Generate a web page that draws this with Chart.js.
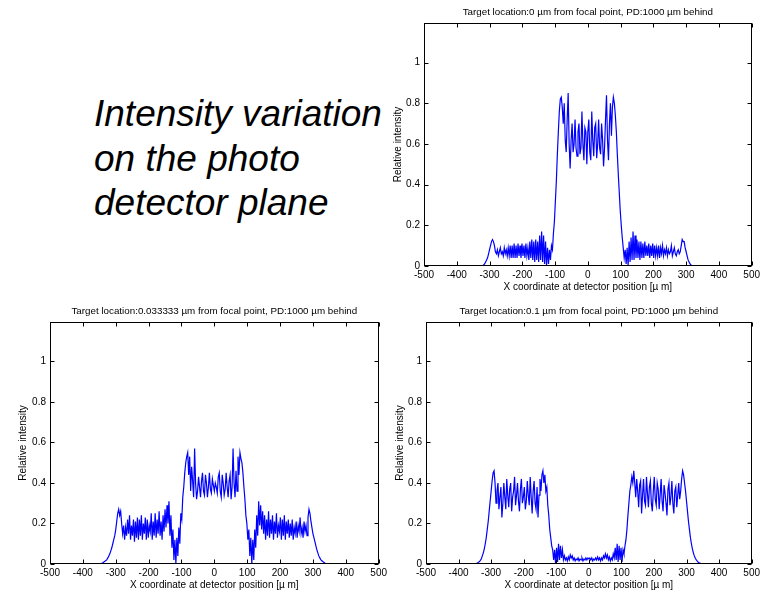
<!DOCTYPE html>
<html>
<head>
<meta charset="utf-8">
<script src="https://cdn.jsdelivr.net/npm/chart.js@4.4.1/dist/chart.umd.min.js"></script>
<style>
  body { margin: 0; background: #fff; }
  #page { position: relative; width: 763px; height: 592px; overflow: hidden; }
  canvas { position: absolute; }
  #note {
    position: absolute; left: 94px; top: 92px;
    font: italic 37px "Liberation Sans", Arial, sans-serif;
    line-height: 44.5px; color: #000; white-space: nowrap;
  }
</style>
</head>
<body>
<div id="page">
  <div id="note">Intensity variation<br>on the photo<br>detector plane</div>
  <canvas id="chartTop" width="383" height="300" style="left:380px;top:0px"></canvas>
  <canvas id="chartLeft" width="390" height="292" style="left:0px;top:300px"></canvas>
  <canvas id="chartRight" width="378" height="292" style="left:385px;top:300px"></canvas>
</div>
<script>
// sampling grid of the detector x coordinate (µm); outside it the intensity is 0
const xStart = -351, xStep = 3;
const xEdges = [-500, 500];
const xTicks = [-500, -400, -300, -200, -100, 0, 100, 200, 300, 400, 500];
const yTicks = [0, 0.2, 0.4, 0.6, 0.8, 1];

const titles = [
  'Target location:0 \u00b5m from focal point, PD:1000 \u00b5m behind',
  'Target location:0.033333 \u00b5m from focal point, PD:1000 \u00b5m behind',
  'Target location:0.1 \u00b5m from focal point, PD:1000 \u00b5m behind'
];

// target at 0 µm
const intensity0 = [
  0, 0, 0, 0, 0, 0, 0, 0, 0, 0,
  0, 0.005, 0.01, 0.02, 0.03, 0.04, 0.06, 0.08, 0.10, 0.12,
  0.13, 0.12, 0.10, 0.07, 0.06, 0.08, 0.05, 0.07, 0.09, 0.06,
  0.07, 0.05, 0.09, 0.06, 0.08, 0.05, 0.09, 0.05, 0.10, 0.04,
  0.10, 0.04, 0.11, 0.04, 0.10, 0.04, 0.11, 0.05, 0.10, 0.04,
  0.11, 0.05, 0.10, 0.04, 0.11, 0.05, 0.09, 0.03, 0.12, 0.04,
  0.13, 0.03, 0.12, 0.02, 0.13, 0.03, 0.12, 0.02, 0.15, 0.03,
  0.17, 0.02, 0.15, 0.01, 0.12, 0.00, 0.09, 0.01, 0.08, 0.03,
  0.10, 0.08, 0.16, 0.22, 0.32, 0.42, 0.55, 0.66, 0.76, 0.82,
  0.83, 0.78, 0.70, 0.80, 0.62, 0.56, 0.72, 0.85, 0.60, 0.48,
  0.62, 0.70, 0.56, 0.60, 0.72, 0.58, 0.54, 0.66, 0.70, 0.55,
  0.58, 0.76, 0.60, 0.52, 0.68, 0.66, 0.50, 0.66, 0.72, 0.56,
  0.52, 0.76, 0.62, 0.54, 0.68, 0.70, 0.53, 0.60, 0.72, 0.58,
  0.55, 0.70, 0.62, 0.49, 0.58, 0.72, 0.84, 0.62, 0.52, 0.70,
  0.80, 0.64, 0.78, 0.83, 0.80, 0.74, 0.66, 0.55, 0.45, 0.36,
  0.27, 0.20, 0.14, 0.09, 0.04, 0.08, 0.01, 0.09, 0.00, 0.12,
  0.02, 0.14, 0.03, 0.17, 0.03, 0.15, 0.04, 0.13, 0.04, 0.12,
  0.03, 0.12, 0.04, 0.11, 0.04, 0.12, 0.05, 0.10, 0.05, 0.11,
  0.04, 0.10, 0.05, 0.11, 0.04, 0.10, 0.05, 0.09, 0.05, 0.10,
  0.04, 0.09, 0.06, 0.10, 0.05, 0.08, 0.06, 0.09, 0.05, 0.08,
  0.06, 0.07, 0.10, 0.05, 0.07, 0.09, 0.06, 0.05, 0.07, 0.08,
  0.06, 0.07, 0.10, 0.13, 0.12, 0.12, 0.09, 0.07, 0.05, 0.03,
  0.02, 0.01, 0.005, 0.002, 0, 0, 0, 0, 0, 0,
  0, 0, 0, 0, 0
];

// target at 0.033333 µm
const intensity1 = [
  0, 0, 0.002, 0.004, 0.006, 0.01, 0.013, 0.017, 0.022, 0.03,
  0.04, 0.05, 0.065, 0.08, 0.10, 0.12, 0.14, 0.17, 0.21, 0.25,
  0.27, 0.24, 0.26, 0.20, 0.15, 0.19, 0.12, 0.18, 0.14, 0.22,
  0.15, 0.24, 0.12, 0.19, 0.14, 0.22, 0.11, 0.21, 0.13, 0.23,
  0.12, 0.22, 0.14, 0.24, 0.12, 0.20, 0.15, 0.23, 0.12, 0.22,
  0.13, 0.19, 0.16, 0.25, 0.12, 0.21, 0.14, 0.25, 0.13, 0.22,
  0.15, 0.26, 0.14, 0.21, 0.12, 0.24, 0.16, 0.27, 0.18, 0.29,
  0.20, 0.31, 0.14, 0.24, 0.08, 0.17, 0.02, 0.12, 0.00, 0.13,
  0.04, 0.18, 0.10, 0.25, 0.22, 0.33, 0.38, 0.45, 0.50, 0.53,
  0.55, 0.44, 0.53, 0.36, 0.48, 0.41, 0.33, 0.57, 0.40, 0.32,
  0.36, 0.43, 0.38, 0.33, 0.41, 0.45, 0.36, 0.34, 0.44, 0.40,
  0.33, 0.38, 0.45, 0.37, 0.35, 0.42, 0.39, 0.36, 0.40, 0.38,
  0.35, 0.43, 0.45, 0.36, 0.33, 0.44, 0.40, 0.34, 0.37, 0.45,
  0.38, 0.33, 0.41, 0.44, 0.32, 0.38, 0.57, 0.40, 0.33, 0.46,
  0.36, 0.53, 0.44, 0.55, 0.52, 0.50, 0.45, 0.38, 0.32, 0.24,
  0.20, 0.12, 0.17, 0.04, 0.13, 0.00, 0.12, 0.02, 0.17, 0.08,
  0.24, 0.14, 0.31, 0.19, 0.29, 0.17, 0.26, 0.15, 0.24, 0.12,
  0.22, 0.14, 0.26, 0.13, 0.22, 0.15, 0.24, 0.12, 0.21, 0.15,
  0.25, 0.13, 0.19, 0.16, 0.23, 0.12, 0.22, 0.14, 0.24, 0.12,
  0.21, 0.15, 0.22, 0.13, 0.20, 0.14, 0.22, 0.12, 0.18, 0.15,
  0.21, 0.13, 0.19, 0.16, 0.23, 0.15, 0.18, 0.13, 0.21, 0.16,
  0.19, 0.14, 0.23, 0.27, 0.25, 0.21, 0.18, 0.15, 0.13, 0.11,
  0.09, 0.07, 0.055, 0.04, 0.03, 0.022, 0.016, 0.012, 0.008, 0.005,
  0.003, 0.002, 0.001, 0, 0
];

// target at 0.1 µm
const intensity2 = [
  0, 0.001, 0.003, 0.005, 0.008, 0.012, 0.018, 0.026, 0.04, 0.055,
  0.075, 0.10, 0.13, 0.17, 0.21, 0.26, 0.31, 0.36, 0.41, 0.45,
  0.46, 0.40, 0.30, 0.36, 0.40, 0.27, 0.33, 0.38, 0.23, 0.30,
  0.40, 0.33, 0.27, 0.42, 0.34, 0.28, 0.37, 0.40, 0.26, 0.33,
  0.36, 0.43, 0.29, 0.34, 0.40, 0.31, 0.26, 0.37, 0.42, 0.30,
  0.33, 0.38, 0.27, 0.31, 0.41, 0.34, 0.29, 0.43, 0.33, 0.25,
  0.36, 0.41, 0.30, 0.27, 0.38, 0.23, 0.34, 0.42, 0.36, 0.44,
  0.46, 0.40, 0.44, 0.36, 0.38, 0.29, 0.24, 0.17, 0.13, 0.09,
  0.07, 0.02, 0.07, 0.00, 0.08, 0.01, 0.10, 0.02, 0.09, 0.03,
  0.07, 0.02, 0.04, 0.02, 0.03, 0.015, 0.035, 0.02, 0.045, 0.03,
  0.04, 0.02, 0.03, 0.015, 0.025, 0.02, 0.03, 0.015, 0.025, 0.02,
  0.03, 0.015, 0.025, 0.02, 0.03, 0.02, 0.03, 0.025, 0.03, 0.02,
  0.03, 0.015, 0.025, 0.02, 0.03, 0.02, 0.035, 0.02, 0.03, 0.015,
  0.03, 0.02, 0.04, 0.03, 0.05, 0.03, 0.045, 0.02, 0.035, 0.015,
  0.03, 0.02, 0.05, 0.03, 0.08, 0.02, 0.10, 0.01, 0.09, 0.02,
  0.08, 0.01, 0.07, 0.05, 0.09, 0.12, 0.17, 0.24, 0.30, 0.36,
  0.39, 0.43, 0.40, 0.46, 0.40, 0.33, 0.42, 0.36, 0.28, 0.39,
  0.41, 0.25, 0.34, 0.42, 0.31, 0.29, 0.43, 0.35, 0.28, 0.38,
  0.41, 0.30, 0.26, 0.36, 0.43, 0.32, 0.29, 0.40, 0.37, 0.27,
  0.34, 0.42, 0.31, 0.26, 0.39, 0.35, 0.30, 0.24, 0.37, 0.40,
  0.29, 0.33, 0.41, 0.30, 0.25, 0.36, 0.38, 0.28, 0.34, 0.40,
  0.32, 0.36, 0.42, 0.46, 0.44, 0.40, 0.36, 0.31, 0.26, 0.21,
  0.17, 0.13, 0.10, 0.075, 0.055, 0.04, 0.028, 0.02, 0.014, 0.009,
  0.006, 0.004, 0.002, 0.001, 0
];

const FONT = '"Liberation Sans", Arial, sans-serif';

// matlab style frame: box round the axes and inward ticks on all four sides
const matlabBox = {
  id: 'matlabBox',
  afterDatasetsDraw(chart) {
    const {ctx, chartArea: a, scales: {x, y}} = chart;
    const L = Math.round(a.left) + 0.5, R = Math.round(a.right) - 0.5;
    const T = Math.round(a.top) + 0.5, B = Math.round(a.bottom) - 0.5;
    ctx.save();
    ctx.strokeStyle = '#000';
    ctx.lineWidth = 1;
    ctx.beginPath();
    x.ticks.forEach(t => {
      const px = Math.round(x.getPixelForValue(t.value)) + 0.5;
      ctx.moveTo(px, B); ctx.lineTo(px, B - 4);
      ctx.moveTo(px, T); ctx.lineTo(px, T + 4);
    });
    y.ticks.forEach(t => {
      const py = Math.round(y.getPixelForValue(t.value)) + 0.5;
      ctx.moveTo(L, py); ctx.lineTo(L + 4, py);
      ctx.moveTo(R, py); ctx.lineTo(R - 4, py);
    });
    ctx.stroke();
    ctx.strokeRect(L, T, R - L, B - T);
    ctx.restore();
  }
};

function toPoints(vals) {
  const pts = [{x: xEdges[0], y: 0}];
  vals.forEach((v, i) => pts.push({x: xStart + i * xStep, y: v}));
  pts.push({x: xEdges[1], y: 0});
  return pts;
}

function makeChart(id, title, vals, geo) {
  return new Chart(document.getElementById(id), {
    type: 'line',
    data: {
      datasets: [{
        data: toPoints(vals),
        borderColor: '#0000ff',
        borderWidth: 1.2,
        pointRadius: 0,
        tension: 0,
        fill: false
      }]
    },
    options: {
      responsive: false,
      animation: false,
      devicePixelRatio: 1,
      layout: {padding: {left: 0, right: geo.right, top: 0, bottom: 0}},
      plugins: {
        legend: {display: false},
        tooltip: {enabled: false},
        title: {
          display: true,
          fullSize: false,
          text: title,
          color: '#000',
          font: {family: FONT, size: 9.8, weight: 'normal'},
          padding: {top: geo.titleTop, bottom: geo.titleBottom}
        }
      },
      scales: {
        x: {
          type: 'linear',
          min: -500, max: 500,
          afterBuildTicks: s => { s.ticks = xTicks.map(v => ({value: v})); },
          afterFit: s => { s.height = geo.xHeight; },
          grid: {display: false, drawTicks: false, tickLength: 0},
          border: {display: false},
          ticks: {color: '#000', font: {family: FONT, size: 10}, padding: 3,
                  autoSkip: false, maxRotation: 0},
          title: {display: true, text: 'X coordinate at detector position [\u00b5 m]',
                  color: '#000', font: {family: FONT, size: 10},
                  padding: {top: 0, bottom: geo.xTitleBottom}}
        },
        y: {
          type: 'linear',
          min: 0, max: 1.195,
          afterBuildTicks: s => { s.ticks = yTicks.map(v => ({value: v})); },
          afterFit: s => { s.width = geo.yWidth; },
          grid: {display: false, drawTicks: false, tickLength: 0},
          border: {display: false},
          ticks: {color: '#000', font: {family: FONT, size: 10}, padding: 4,
                  callback: v => String(v)},
          title: {display: true, text: 'Relative intensity',
                  color: '#000', font: {family: FONT, size: 10},
                  padding: {top: geo.yTitleLeft, bottom: 0}}
        }
      }
    },
    plugins: [matlabBox]
  });
}

makeChart('chartTop', titles[0], intensity0,
  {right: 8, titleTop: 6.1, titleBottom: 5.1, xHeight: 34, xTitleBottom: 7, yWidth: 44, yTitleLeft: 12});
makeChart('chartLeft', titles[1], intensity1,
  {right: 11, titleTop: 5.1, titleBottom: 5.1, xHeight: 28, xTitleBottom: 1, yWidth: 50, yTitleLeft: 17});
makeChart('chartRight', titles[2], intensity2,
  {right: 8, titleTop: 5.1, titleBottom: 5.1, xHeight: 28, xTitleBottom: 1, yWidth: 41, yTitleLeft: 9});
</script>
</body>
</html>
